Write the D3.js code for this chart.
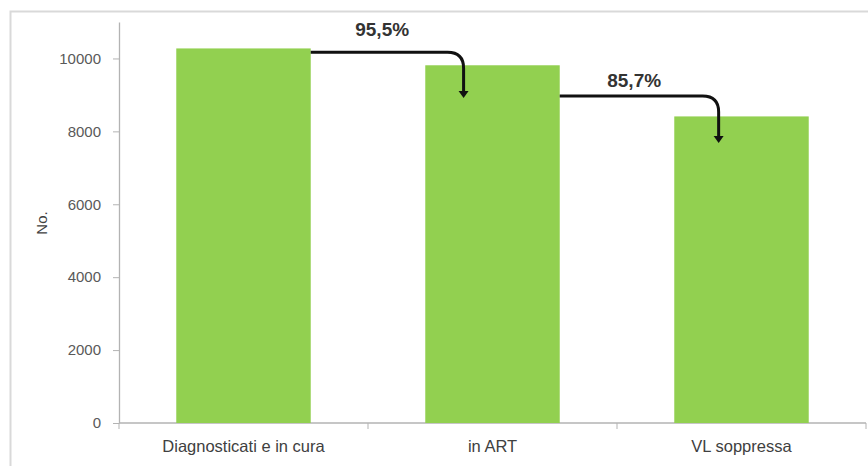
<!DOCTYPE html>
<html>
<head>
<meta charset="utf-8">
<script src="https://cdn.jsdelivr.net/npm/d3@7"></script>
<style>
  html, body { margin: 0; padding: 0; background: #fff; }
  svg { display: block; }
</style>
</head>
<body>
<script>
// Cascade of care: people diagnosed and in care, on ART, with suppressed viral load
const categories = ["Diagnosticati e in cura", "in ART", "VL soppressa"];
const values = [10275, 9813, 8410];
const yTicks = [0, 2000, 4000, 6000, 8000, 10000];
const yMax = 11000;
const yTitle = "No.";

// Step connectors between consecutive bars (levels in data units)
const connectorFrom = [0, 1];
const connectorLevel = [10170, 8970];
const connectorTip = [8918, 7681];
const connectorXFrac = [0.285, 0.33];

const W = 868, H = 466;
const plot = { left: 119, right: 866, top: 22, bottom: 423 };

const svg = d3.select("body").append("svg")
  .attr("width", W).attr("height", H);

// chart frame
svg.append("rect")
  .attr("x", 10.5).attr("y", 11.5)
  .attr("width", 900).attr("height", 500)
  .attr("fill", "none").attr("stroke", "#d9d9d9").attr("stroke-width", 2);

const x = d3.scaleBand().domain(categories).range([plot.left, plot.right]).padding(0);
const y = d3.scaleLinear().domain([0, yMax]).range([plot.bottom, plot.top]);
const barW = x.bandwidth() * 0.54;
const barX = d => x(d) + (x.bandwidth() - barW) / 2;

// y axis
const yAxis = svg.append("g")
  .attr("transform", `translate(${plot.left},0)`)
  .call(d3.axisLeft(y).tickValues(yTicks).tickSize(6).tickSizeOuter(0).tickPadding(12).tickFormat(d3.format("d")));
yAxis.select(".domain").attr("stroke", "#b3b3b3").attr("stroke-width", 1.3);
yAxis.selectAll(".tick line").attr("stroke", "#b3b3b3");
yAxis.selectAll(".tick text")
  .attr("fill", "#595959")
  .style("font-family", "'Liberation Sans', Arial, sans-serif")
  .style("font-size", "15px");

// x axis with boundary ticks
const xAxis = svg.append("g");
xAxis.append("line")
  .attr("x1", plot.left).attr("x2", plot.right)
  .attr("y1", y(0)).attr("y2", y(0))
  .attr("stroke", "#b3b3b3").attr("stroke-width", 1.3);
const bounds = categories.map(c => x(c)).concat([plot.right]);
xAxis.selectAll("line.tk").data(bounds).join("line")
  .attr("class", "tk")
  .attr("x1", d => d).attr("x2", d => d)
  .attr("y1", y(0)).attr("y2", y(0) + 6)
  .attr("stroke", "#b3b3b3");
xAxis.selectAll("text").data(categories).join("text")
  .attr("x", d => x(d) + x.bandwidth() / 2)
  .attr("y", 452)
  .attr("text-anchor", "middle")
  .attr("fill", "#404040")
  .style("font-family", "'Liberation Sans', Arial, sans-serif")
  .style("font-size", "16.5px")
  .text(d => d);

// y title
svg.append("text")
  .attr("transform", `translate(47,223) rotate(-90)`)
  .attr("text-anchor", "middle")
  .attr("fill", "#404040")
  .style("font-family", "'Liberation Sans', Arial, sans-serif")
  .style("font-size", "15px")
  .text(yTitle);

// bars
svg.selectAll("rect.bar").data(values).join("rect")
  .attr("class", "bar")
  .attr("x", (d, i) => barX(categories[i]))
  .attr("y", d => y(d))
  .attr("width", barW)
  .attr("height", d => y(0) - y(d))
  .attr("fill", "#92d050");

// connectors with percentage of the previous step
const pctFmt = v => d3.format(".1f")(v * 100).replace(".", ",") + "%";
const r = 16;
connectorFrom.forEach((fi, k) => {
  const ti = fi + 1;
  const x0 = barX(categories[fi]) + barW;
  const vx = barX(categories[ti]) + barW * connectorXFrac[k];
  const hy = y(connectorLevel[k]);
  const tip = y(connectorTip[k]);
  const head = 7;
  svg.append("path")
    .attr("d", `M${x0},${hy} L${vx - r},${hy} Q${vx},${hy} ${vx},${hy + r} L${vx},${tip - head + 1}`)
    .attr("fill", "none").attr("stroke", "#111").attr("stroke-width", 3);
  svg.append("path")
    .attr("d", `M${vx - 5},${tip - head} L${vx + 5},${tip - head} L${vx},${tip} Z`)
    .attr("fill", "#111");
  svg.append("text")
    .attr("x", (x0 + vx) / 2 - 5)
    .attr("y", hy - (k === 0 ? 16.5 : 9.5))
    .attr("text-anchor", "middle")
    .attr("fill", "#333")
    .style("font-family", "'Liberation Sans', Arial, sans-serif")
    .style("font-weight", "bold")
    .style("font-size", "19px")
    .text(pctFmt(values[ti] / values[fi]));
});
</script>
</body>
</html>
